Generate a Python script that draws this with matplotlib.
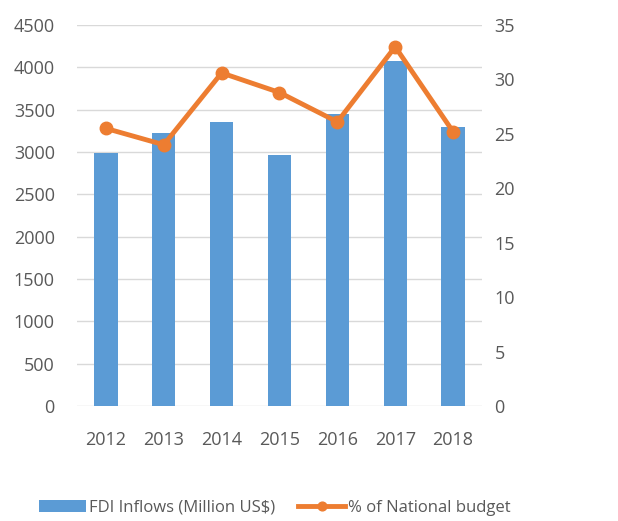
import numpy as np
import matplotlib
matplotlib.use("Agg")
import matplotlib.pyplot as plt

# data
years = ["2012", "2013", "2014", "2015", "2016", "2017", "2018"]
fdi_inflows = [2990, 3220, 3350, 2960, 3450, 4080, 3290]
pct_budget = [25.5, 24.0, 30.6, 28.8, 26.1, 33.0, 25.2]

left_ticks = [0, 500, 1000, 1500, 2000, 2500, 3000, 3500, 4000, 4500]
right_ticks = [0, 5, 10, 15, 20, 25, 30, 35]

bar_color = "#5B9BD5"
line_color = "#ED7D31"
text_color = "#595959"

plt.rcParams["font.family"] = ["Open Sans", "DejaVu Sans"]

fig = plt.figure(figsize=(6.18, 5.21), dpi=100)
ax = fig.add_axes([0.1246, 0.2207, 0.6553, 0.7313])
ax2 = ax.twinx()

x = np.arange(len(years))
ax.bar(x, fdi_inflows, width=0.4, color=bar_color, zorder=2,
       label="FDI Inflows (Million US$)")
ax2.plot(x, pct_budget, color=line_color, linewidth=3.5, marker="o",
         markersize=9, zorder=3, label="% of National budget")

ax.set_xlim(-0.5, len(years) - 0.5)
ax.set_ylim(0, 4500)
ax2.set_ylim(0, 35)
ax.set_yticks(left_ticks)
ax2.set_yticks(right_ticks)
ax.set_xticks(x)
ax.set_xticklabels(years)

ax.grid(axis="y", color="#D9D9D9", linewidth=1, zorder=0)
ax.set_axisbelow(True)
for a in (ax, ax2):
    for s in a.spines.values():
        s.set_visible(False)
    a.tick_params(length=0, labelsize=13, labelcolor=text_color)
ax.tick_params(axis="y", pad=16)
ax.tick_params(axis="x", pad=18)
ax2.tick_params(axis="y", pad=9)

h1, l1 = ax.get_legend_handles_labels()
h2, l2 = ax2.get_legend_handles_labels()
fig.legend(h1 + h2, l1 + l2, loc="center", bbox_to_anchor=(0.445, 0.025),
           ncol=2, frameon=False, fontsize=12, labelcolor=text_color,
           handlelength=2.8, handletextpad=0.2, columnspacing=1.4,
           markerscale=0.7)

fig.savefig("out.png", dpi=100)
